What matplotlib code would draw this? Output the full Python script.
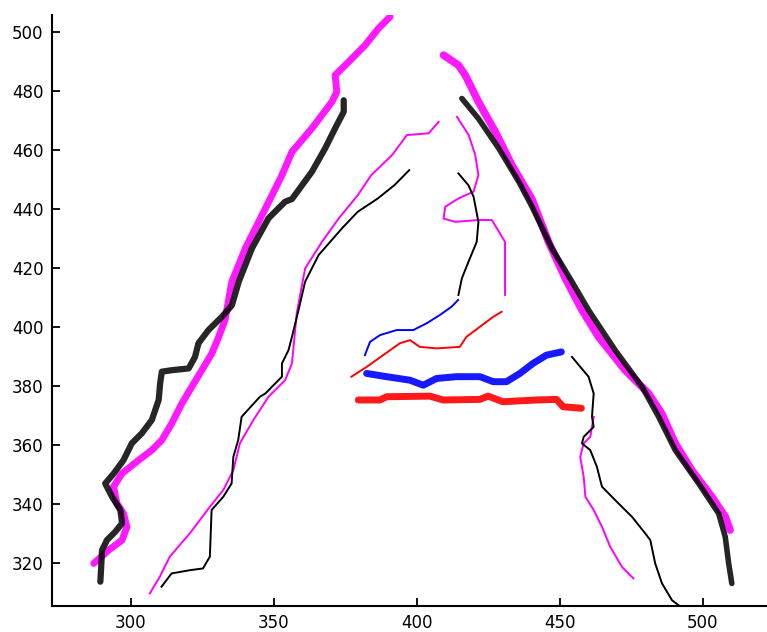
import matplotlib
matplotlib.use("Agg")
import matplotlib.pyplot as plt

# ---- data ----
left_thick_magenta_x = [287.0, 292.2, 296.9, 298.6, 297.4, 295.1, 293.9, 296.9, 302.7, 307.3, 310.8, 314.3, 317.8, 321.3, 324.8, 328.3, 330.7, 332.9, 335.3, 340.0, 347.0, 352.8, 356.3, 363.3, 370.3, 372.0, 371.4, 376.1, 381.9, 386.6, 390.6]
left_thick_magenta_y = [320.0, 324.5, 327.9, 332.4, 336.9, 340.3, 346.0, 350.5, 355.0, 358.4, 361.8, 367.5, 374.2, 379.9, 385.5, 391.2, 396.8, 402.5, 415.5, 426.8, 440.3, 451.6, 459.5, 467.5, 476.5, 479.9, 485.5, 490.0, 495.7, 501.4, 505.3]

left_thick_black_x = [289.3, 289.6, 289.9, 291.6, 294.5, 296.9, 296.3, 293.4, 291.0, 294.0, 297.4, 300.3, 303.8, 307.3, 309.7, 310.2, 310.8, 314.3, 320.2, 322.4, 323.6, 327.1, 331.8, 335.3, 337.7, 342.3, 348.1, 353.9, 356.3, 363.3, 367.9, 371.4, 374.4, 374.4]
left_thick_black_y = [313.8, 318.8, 324.5, 327.9, 330.7, 333.6, 338.1, 342.6, 347.1, 350.5, 355.0, 360.7, 364.1, 368.6, 375.4, 381.0, 385.0, 385.5, 386.1, 390.0, 394.6, 399.1, 403.6, 407.5, 415.5, 426.8, 437.0, 442.6, 443.5, 452.8, 460.7, 467.5, 473.1, 477.0]

right_thick_magenta_x = [409.3, 414.5, 416.9, 421.5, 427.4, 433.2, 440.2, 446.0, 451.9, 457.7, 463.5, 472.8, 481.0, 485.6, 490.3, 496.1, 503.1, 507.8, 509.5]
right_thick_magenta_y = [492.3, 488.9, 485.5, 476.5, 466.3, 455.0, 443.5, 429.0, 416.6, 405.9, 396.8, 385.5, 377.6, 370.8, 360.7, 351.6, 342.6, 335.8, 331.3]

right_thick_black_x = [415.7, 421.5, 428.6, 435.6, 440.2, 447.2, 454.2, 460.0, 469.3, 478.7, 484.5, 490.3, 498.5, 505.5, 507.8, 509.0, 510.1]
right_thick_black_y = [477.6, 470.8, 460.7, 449.4, 441.0, 426.8, 415.5, 405.9, 392.3, 379.9, 369.7, 358.4, 347.1, 336.9, 329.0, 320.0, 313.2]

left_thin_magenta_x = [306.6, 310.1, 313.6, 320.6, 327.6, 332.3, 335.8, 338.1, 342.8, 345.1, 348.1, 353.9, 356.3, 358.0, 360.9, 366.8, 372.6, 379.3, 384.0, 391.3, 396.5, 404.1, 407.6]
left_thin_magenta_y = [309.8, 315.5, 322.3, 330.2, 339.2, 344.9, 351.6, 360.7, 368.6, 372.0, 376.5, 382.1, 387.8, 405.0, 420.0, 429.0, 436.9, 444.8, 451.6, 458.4, 465.2, 465.8, 469.7]

left_thin_black_x = [310.7, 314.2, 320.6, 325.2, 327.6, 328.2, 332.3, 335.2, 335.8, 337.5, 338.7, 345.1, 347.0, 352.8, 352.8, 355.1, 356.3, 358.6, 360.9, 365.6, 373.8, 379.3, 386.3, 392.1, 397.3]
left_thin_black_y = [312.1, 316.6, 317.7, 318.3, 322.3, 338.1, 342.6, 347.1, 356.1, 361.8, 369.7, 376.5, 377.6, 383.3, 387.8, 392.3, 396.8, 405.9, 415.5, 424.5, 433.6, 439.2, 443.7, 448.2, 453.3]

right_thin_magenta_up_x = [414.0, 418.1, 420.4, 421.5, 419.8, 414.5, 409.9, 409.3, 413.4, 421.5, 426.2, 430.8, 430.8]
right_thin_magenta_up_y = [471.4, 465.2, 458.4, 451.6, 446.0, 443.7, 440.9, 436.9, 435.8, 436.4, 436.4, 429.0, 411.0]

right_thin_black_up_x = [414.5, 418.0, 419.8, 421.5, 420.9, 418.0, 415.7, 414.5]
right_thin_black_up_y = [452.2, 448.2, 444.3, 435.8, 429.0, 422.2, 416.6, 411.0]

right_thin_black_low_x = [454.2, 460.0, 461.8, 461.2, 461.8, 458.3, 457.7, 460.6, 462.9, 464.7, 470.5, 475.2, 479.8, 481.6, 483.3, 485.7, 489.2, 491.5]
right_thin_black_low_y = [390.0, 383.3, 377.6, 369.7, 366.3, 362.9, 360.7, 358.4, 352.8, 346.0, 340.3, 335.8, 330.2, 327.9, 320.0, 313.2, 307.5, 305.8]

right_thin_magenta_low_x = [461.8, 460.6, 458.3, 457.1, 458.3, 458.9, 461.8, 464.7, 467.6, 471.7, 475.7]
right_thin_magenta_low_y = [369.7, 362.9, 360.7, 356.1, 349.4, 342.6, 338.1, 332.4, 325.6, 318.8, 314.9]

thin_blue_x = [381.8, 383.6, 387.1, 392.9, 398.7, 403.4, 408.0, 412.1, 414.4]
thin_blue_y = [390.6, 395.1, 397.4, 399.1, 399.1, 401.4, 404.2, 407.0, 409.3]

thin_red_x = [377.1, 382.4, 388.2, 394.0, 397.6, 401.0, 406.9, 415.0, 417.3, 422.0, 426.7, 429.6]
thin_red_y = [383.3, 386.6, 390.6, 394.6, 395.7, 393.4, 392.9, 393.4, 396.8, 400.2, 403.6, 405.3]

thick_blue_x = [382.4, 389.4, 397.6, 402.2, 406.9, 413.8, 422.0, 426.7, 431.3, 436.0, 440.6, 445.3, 450.5]
thick_blue_y = [384.4, 383.3, 382.1, 380.4, 382.7, 383.3, 383.3, 381.6, 381.6, 384.4, 387.8, 390.6, 391.7]

thick_red_x = [379.5, 387.1, 389.4, 404.5, 409.2, 422.0, 424.9, 430.1, 441.8, 448.8, 451.1, 457.5]
thick_red_y = [375.4, 375.4, 376.5, 376.7, 375.4, 375.6, 376.7, 374.8, 375.4, 375.6, 373.1, 372.6]

x_ticks = [300, 350, 400, 450, 500]
y_ticks = [320, 340, 360, 380, 400, 420, 440, 460, 480, 500]

# ---- figure ----
fig = plt.figure(figsize=(7.67, 6.32), dpi=100)
ax = fig.add_axes([52 / 767, (632 - 605.6) / 632, 1 - 52 / 767, (605.6 - 15) / 632])

MAG = "#ff00ff"
THICK = 5.0
THIN = 1.4

ax.plot(left_thick_magenta_x, left_thick_magenta_y, color=MAG, lw=THICK, solid_capstyle="round", alpha=0.9)
ax.plot(left_thick_black_x, left_thick_black_y, color="black", lw=THICK - 0.5, solid_capstyle="round", alpha=0.85)
ax.plot(right_thick_magenta_x, right_thick_magenta_y, color=MAG, lw=THICK + 0.5, solid_capstyle="round", alpha=0.9)
ax.plot(right_thick_black_x, right_thick_black_y, color="black", lw=THICK - 1.0, solid_capstyle="round", alpha=0.85)

ax.plot(left_thin_magenta_x, left_thin_magenta_y, color=MAG, lw=THIN)
ax.plot(left_thin_black_x, left_thin_black_y, color="black", lw=THIN)
ax.plot(right_thin_magenta_up_x, right_thin_magenta_up_y, color=MAG, lw=THIN)
ax.plot(right_thin_black_up_x, right_thin_black_up_y, color="black", lw=THIN)
ax.plot(right_thin_magenta_low_x, right_thin_magenta_low_y, color=MAG, lw=THIN)
ax.plot(right_thin_black_low_x, right_thin_black_low_y, color="black", lw=THIN)
ax.plot(thin_blue_x, thin_blue_y, color="#0000ff", lw=THIN)
ax.plot(thin_red_x, thin_red_y, color="#ff0000", lw=THIN)
ax.plot(thick_blue_x, thick_blue_y, color="#0000ff", lw=THICK, solid_capstyle="round", alpha=0.9)
ax.plot(thick_red_x, thick_red_y, color="#ff0000", lw=THICK, solid_capstyle="round", alpha=0.9)

ax.set_xlim(272.4, 522.4)
ax.set_ylim(305.7, 505.9)
ax.set_xticks(x_ticks)
ax.set_yticks(y_ticks)
ax.spines["top"].set_visible(False)
ax.spines["right"].set_visible(False)
for s in ("left", "bottom"):
    ax.spines[s].set_linewidth(1.5)
ax.tick_params(direction="in", length=6, width=1.3, labelsize=12, pad=6)
for lab in ax.get_xticklabels() + ax.get_yticklabels():
    lab.set_fontweight("normal")

fig.savefig("out.png", dpi=100)
